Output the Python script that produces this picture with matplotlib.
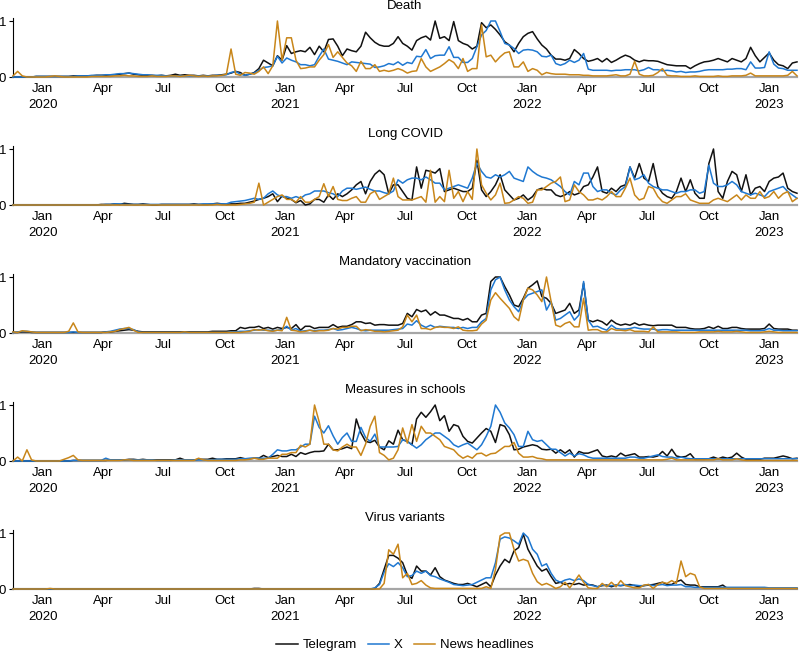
import matplotlib
matplotlib.use("Agg")
import matplotlib.pyplot as plt
import matplotlib.dates as mdates
import pandas as pd

plt.rcParams['font.family'] = ['Liberation Sans', 'DejaVu Sans']
plt.rcParams['font.size'] = 9.5

# weekly dates, Nov 2019 - Feb 2023
dates = pd.date_range('2019-11-17', periods=170, freq='7D')

# values are normalised to the max of each series (0..1)
# rows: Nov-Dec 2019, then one row per quarter
death_tg = [
    0, 0, 0, 0, 0, 0.01, 0.01,
    0.01, 0.01, 0.01, 0.01, 0.01, 0.01, 0.02, 0.02, 0.02, 0.02, 0.02, 0.03, 0.03,
    0.03, 0.04, 0.04, 0.05, 0.06, 0.07, 0.05, 0.04, 0.03, 0.03, 0.03, 0.02, 0.03,
    0.02, 0.03, 0.05, 0.03, 0.04, 0.03, 0.03, 0.02, 0.03, 0.02, 0.03, 0.03, 0.04,
    0.05, 0.07, 0.1, 0.08, 0.03, 0.05, 0.08, 0.15, 0.3, 0.25, 0.2, 0.38, 0.3,
    0.56, 0.42, 0.45, 0.47, 0.45, 0.53, 0.4, 0.55, 0.45, 0.67, 0.68, 0.55, 0.38,
    0.5, 0.47, 0.45, 0.55, 0.8, 0.7, 0.62, 0.57, 0.55, 0.55, 0.6, 0.72, 0.6,
    0.55, 0.48, 0.65, 0.7, 0.73, 0.66, 1.0, 0.69, 0.72, 0.65, 0.99, 0.65, 0.6,
    0.57, 0.5, 0.55, 0.97, 0.88, 0.93, 0.85, 0.75, 0.63, 0.57, 0.45, 0.6, 0.72,
    0.78, 0.81, 0.68, 0.57, 0.5, 0.39, 0.32, 0.32, 0.3, 0.33, 0.49, 0.42, 0.33,
    0.28, 0.3, 0.33, 0.27, 0.33, 0.26, 0.3, 0.35, 0.39, 0.36, 0.3, 0.27, 0.3,
    0.29, 0.29, 0.28, 0.25, 0.22, 0.21, 0.2, 0.2, 0.2, 0.15, 0.2, 0.24, 0.27,
    0.28, 0.3, 0.33, 0.3, 0.27, 0.33, 0.3, 0.27, 0.33, 0.53, 0.38, 0.27, 0.35,
    0.43, 0.3, 0.22, 0.2, 0.15, 0.25, 0.27]
death_x = [
    0, 0, 0, 0, 0, 0.01, 0.01,
    0.01, 0.01, 0.01, 0.01, 0.01, 0.01, 0.01, 0.02, 0.02, 0.02, 0.03, 0.03, 0.03,
    0.04, 0.04, 0.05, 0.06, 0.06, 0.07, 0.06, 0.05, 0.04, 0.04, 0.03, 0.03, 0.03,
    0.02, 0.02, 0.02, 0.02, 0.02, 0.02, 0.02, 0.02, 0.02, 0.02, 0.02, 0.03, 0.03,
    0.04, 0.08, 0.1, 0.05, 0.03, 0.05, 0.07, 0.12, 0.17, 0.18, 0.2, 0.37, 0.25,
    0.34, 0.3, 0.27, 0.22, 0.22, 0.2, 0.22, 0.37, 0.5, 0.32, 0.3, 0.28, 0.25,
    0.22, 0.27, 0.26, 0.25, 0.24, 0.23, 0.17, 0.18, 0.2, 0.24, 0.22, 0.27, 0.21,
    0.26, 0.24, 0.37, 0.36, 0.49, 0.33, 0.38, 0.39, 0.39, 0.54, 0.35, 0.35, 0.26,
    0.26, 0.33, 0.54, 0.75, 0.83, 1.0, 1.0, 0.81, 0.6, 0.57, 0.51, 0.42, 0.48,
    0.49, 0.48, 0.45, 0.37, 0.36, 0.39, 0.24, 0.21, 0.24, 0.3, 0.26, 0.3, 0.42,
    0.14, 0.12, 0.12, 0.12, 0.12, 0.11, 0.12, 0.12, 0.13, 0.13, 0.13, 0.11, 0.13,
    0.17, 0.13, 0.13, 0.11, 0.12, 0.11, 0.09, 0.1, 0.08, 0.09, 0.09, 0.1, 0.12,
    0.13, 0.13, 0.13, 0.13, 0.14, 0.14, 0.15, 0.15, 0.13, 0.27, 0.16, 0.16, 0.17,
    0.45, 0.23, 0.16, 0.15, 0.12, 0.12, 0.12]
death_news = [
    0.02, 0.1, 0.02, 0, 0, 0, 0,
    0, 0.01, 0.02, 0.01, 0, 0, 0, 0, 0, 0, 0.01, 0.01, 0.01,
    0.01, 0.01, 0.02, 0.02, 0.03, 0.02, 0.02, 0.01, 0.01, 0.01, 0.02, 0.01, 0.01,
    0.01, 0.02, 0.02, 0.01, 0.02, 0.03, 0.02, 0.01, 0.02, 0.01, 0.02, 0.02, 0.03,
    0.05, 0.5, 0.05, 0.03, 0.08, 0.07, 0.05, 0.1, 0.18, 0.06, 0.2, 1.0, 0.3,
    0.7, 0.7, 0.3, 0.15, 0.16, 0.18, 0.18, 0.3, 0.4, 0.58, 0.35, 0.45, 0.35,
    0.25, 0.2, 0.1, 0.28, 0.15, 0.15, 0.22, 0.1, 0.12, 0.1, 0.12, 0.15, 0.12,
    0.07, 0.1, 0.11, 0.33, 0.18, 0.1, 0.14, 0.18, 0.24, 0.31, 0.26, 0.15, 0.33,
    0.1, 0.15, 0.15, 0.93, 0.36, 0.39, 0.27, 0.36, 0.43, 0.45, 0.18, 0.18, 0.27,
    0.1, 0.15, 0.12, 0.04, 0.08, 0.06, 0.05, 0.05, 0.05, 0.04, 0.04, 0.04, 0.03,
    0.03, 0.02, 0.02, 0.02, 0.02, 0.03, 0.04, 0.02, 0.02, 0.05, 0.28, 0.05, 0.02,
    0.02, 0.03, 0.08, 0.15, 0.03, 0.02, 0.02, 0.01, 0.01, 0.01, 0.02, 0.01, 0.01,
    0.01, 0.01, 0.02, 0.01, 0.01, 0.02, 0.02, 0.02, 0.03, 0.07, 0.02, 0.02, 0.02,
    0.02, 0.02, 0.02, 0.02, 0.03, 0.1, 0.02]

longcovid_tg = [
    0, 0, 0, 0, 0, 0, 0,
    0, 0, 0, 0, 0, 0, 0, 0, 0, 0, 0, 0, 0.01,
    0.01, 0.01, 0.02, 0.01, 0.03, 0.02, 0.01, 0.01, 0.02, 0.01, 0, 0, 0.01,
    0.01, 0.01, 0.01, 0.01, 0.01, 0.01, 0.02, 0.01, 0.01, 0.01, 0.02, 0.03, 0.02,
    0.01, 0.02, 0.02, 0.03, 0.03, 0.05, 0.07, 0.1, 0.12, 0.15, 0.2, 0.06, 0.16,
    0.12, 0.1, 0.04, 0.08, 0.0, 0.02, 0.1, 0.1, 0.05, 0.18, 0.1, 0.2, 0.15,
    0.2, 0.27, 0.36, 0.42, 0.2, 0.42, 0.55, 0.62, 0.54, 0.2, 0.36, 0.36, 0.24,
    0.12, 0.09, 0.68, 0.3, 0.62, 0.6, 0.57, 0.65, 0.24, 0.27, 0.3, 0.27, 0.24,
    0.24, 0.3, 0.8, 0.27, 0.15, 0.24, 0.36, 0.54, 0.27, 0.18, 0.09, 0.12, 0.18,
    0.09, 0.15, 0.27, 0.3, 0.27, 0.27, 0.18, 0.15, 0.18, 0.24, 0.18, 0.21, 0.33,
    0.36, 0.5, 0.68, 0.24, 0.21, 0.3, 0.24, 0.33, 0.36, 0.68, 0.48, 0.74, 0.48,
    0.42, 0.74, 0.33, 0.21, 0.15, 0.12, 0.24, 0.48, 0.24, 0.45, 0.21, 0.12, 0.12,
    0.74, 1.0, 0.24, 0.12, 0.42, 0.6, 0.54, 0.24, 0.54, 0.18, 0.3, 0.33, 0.24,
    0.42, 0.48, 0.5, 0.57, 0.3, 0.24, 0.21]
longcovid_x = [
    0, 0, 0, 0, 0, 0, 0,
    0, 0, 0, 0, 0, 0, 0, 0, 0, 0, 0, 0, 0,
    0.01, 0.01, 0.02, 0.02, 0.01, 0.01, 0.01, 0.01, 0.01, 0.01, 0.01, 0.01, 0.01,
    0.01, 0.01, 0.01, 0.01, 0.01, 0.01, 0.01, 0.01, 0.02, 0.02, 0.02, 0.02, 0.02,
    0.02, 0.05, 0.06, 0.07, 0.08, 0.1, 0.12, 0.1, 0.12, 0.2, 0.25, 0.18, 0.15,
    0.15, 0.12, 0.15, 0.12, 0.18, 0.2, 0.25, 0.25, 0.25, 0.22, 0.2, 0.15, 0.25,
    0.3, 0.3, 0.28, 0.3, 0.32, 0.28, 0.25, 0.25, 0.22, 0.2, 0.25, 0.45, 0.39,
    0.45, 0.48, 0.48, 0.45, 0.5, 0.45, 0.39, 0.39, 0.27, 0.3, 0.33, 0.36, 0.33,
    0.3, 0.48, 0.75, 0.6, 0.5, 0.48, 0.54, 0.5, 0.54, 0.6, 0.48, 0.45, 0.42,
    0.68, 0.6, 0.54, 0.5, 0.48, 0.45, 0.39, 0.33, 0.24, 0.18, 0.42, 0.36, 0.57,
    0.57, 0.33, 0.24, 0.27, 0.27, 0.21, 0.18, 0.27, 0.33, 0.68, 0.45, 0.48, 0.54,
    0.39, 0.33, 0.3, 0.27, 0.27, 0.24, 0.21, 0.24, 0.24, 0.27, 0.27, 0.21, 0.24,
    0.71, 0.39, 0.33, 0.33, 0.36, 0.42, 0.36, 0.24, 0.21, 0.18, 0.21, 0.18, 0.15,
    0.24, 0.27, 0.3, 0.33, 0.24, 0.18, 0.12]
longcovid_news = [
    0, 0, 0, 0, 0, 0, 0,
    0, 0, 0, 0, 0, 0, 0, 0, 0, 0, 0, 0, 0,
    0, 0, 0, 0, 0, 0, 0, 0, 0, 0, 0, 0, 0,
    0, 0, 0, 0, 0, 0, 0, 0, 0, 0, 0, 0.01, 0,
    0, 0, 0, 0.01, 0.02, 0.03, 0.05, 0.39, 0.0, 0.05, 0.1, 0.15, 0.18,
    0.1, 0.1, 0.05, 0.15, 0.05, 0.05, 0.1, 0.15, 0.38, 0.15, 0.33, 0.1, 0.08,
    0.08, 0.12, 0.15, 0.05, 0.05, 0.2, 0.25, 0.1, 0.15, 0.2, 0.48, 0.15, 0.09,
    0.09, 0.09, 0.12, 0.15, 0.05, 0.62, 0.05, 0.15, 0.06, 0.62, 0.12, 0.24, 0.06,
    0.24, 0.1, 1.0, 0.36, 0.21, 0.09, 0.18, 0.39, 0.03, 0.04, 0.09, 0.15, 0.12,
    0.03, 0.05, 0.27, 0.27, 0.33, 0.39, 0.42, 0.5, 0.06, 0.09, 0.36, 0.24, 0.18,
    0.09, 0.09, 0.12, 0.09, 0.15, 0.24, 0.15, 0.15, 0.3, 0.48, 0.18, 0.09, 0.12,
    0.33, 0.3, 0.15, 0.06, 0.03, 0.09, 0.15, 0.15, 0.2, 0.09, 0.06, 0.03, 0.03,
    0.03, 0.09, 0.12, 0.09, 0.06, 0.12, 0.18, 0.09, 0.18, 0.12, 0.12, 0.24, 0.12,
    0.15, 0.24, 0.12, 0.2, 0.24, 0.06, 0.12]

mandvac_tg = [
    0.01, 0.01, 0.02, 0.02, 0.01, 0.01, 0.01,
    0.01, 0.01, 0.01, 0.01, 0.01, 0.01, 0.01, 0.01, 0.01, 0.01, 0.01, 0.01, 0.01,
    0.02, 0.02, 0.03, 0.04, 0.05, 0.06, 0.05, 0.03, 0.02, 0.02, 0.02, 0.02, 0.02,
    0.02, 0.02, 0.02, 0.02, 0.02, 0.02, 0.02, 0.02, 0.02, 0.02, 0.03, 0.03, 0.03,
    0.03, 0.04, 0.04, 0.1, 0.08, 0.1, 0.1, 0.12, 0.08, 0.1, 0.07, 0.1, 0.08,
    0.1, 0.08, 0.15, 0.05, 0.12, 0.12, 0.08, 0.1, 0.1, 0.1, 0.15, 0.1, 0.12,
    0.12, 0.15, 0.2, 0.2, 0.17, 0.18, 0.14, 0.15, 0.15, 0.14, 0.14, 0.14, 0.17,
    0.35, 0.29, 0.42, 0.38, 0.41, 0.32, 0.38, 0.32, 0.32, 0.29, 0.26, 0.26, 0.23,
    0.26, 0.2, 0.2, 0.32, 0.35, 0.92, 1.0, 1.0, 0.83, 0.68, 0.5, 0.47, 0.62,
    0.8, 0.86, 0.93, 0.65, 0.62, 0.53, 0.35, 0.38, 0.41, 0.53, 0.35, 0.41, 0.89,
    0.23, 0.2, 0.23, 0.2, 0.14, 0.23, 0.17, 0.14, 0.16, 0.14, 0.18, 0.14, 0.16,
    0.14, 0.13, 0.14, 0.14, 0.14, 0.14, 0.1, 0.1, 0.1, 0.08, 0.07, 0.07, 0.08,
    0.11, 0.08, 0.12, 0.08, 0.08, 0.1, 0.1, 0.08, 0.07, 0.07, 0.07, 0.07, 0.08,
    0.16, 0.08, 0.07, 0.07, 0.07, 0.05, 0.05]
mandvac_x = [
    0.01, 0.02, 0.03, 0.03, 0.02, 0.01, 0.01,
    0.01, 0.01, 0.01, 0.01, 0.01, 0.01, 0.02, 0.01, 0.01, 0.01, 0.01, 0.01, 0.01,
    0.02, 0.03, 0.05, 0.07, 0.08, 0.08, 0.06, 0.02, 0.01, 0.01, 0.01, 0.01, 0.01,
    0.01, 0.01, 0.01, 0.01, 0.01, 0.01, 0.01, 0.01, 0.01, 0.01, 0.01, 0.01, 0.01,
    0.01, 0.02, 0.02, 0.03, 0.03, 0.04, 0.05, 0.06, 0.05, 0.05, 0.04, 0.05, 0.06,
    0.12, 0.05, 0.08, 0.03, 0.04, 0.05, 0.04, 0.05, 0.05, 0.06, 0.08, 0.05, 0.06,
    0.08, 0.1, 0.08, 0.05, 0.04, 0.05, 0.05, 0.05, 0.05, 0.05, 0.06, 0.07, 0.08,
    0.16, 0.14, 0.22, 0.14, 0.1, 0.14, 0.1, 0.12, 0.11, 0.1, 0.1, 0.08, 0.1,
    0.08, 0.1, 0.1, 0.2, 0.26, 0.77, 0.95, 1.0, 0.77, 0.59, 0.47, 0.38, 0.59,
    0.68, 0.71, 0.74, 0.77, 0.41, 0.56, 0.23, 0.26, 0.32, 0.38, 0.23, 0.32, 0.92,
    0.23, 0.11, 0.12, 0.08, 0.05, 0.14, 0.08, 0.07, 0.07, 0.08, 0.1, 0.08, 0.07,
    0.07, 0.07, 0.05, 0.06, 0.06, 0.05, 0.05, 0.05, 0.05, 0.05, 0.05, 0.05, 0.05,
    0.05, 0.05, 0.05, 0.05, 0.05, 0.05, 0.05, 0.05, 0.05, 0.04, 0.04, 0.04, 0.05,
    0.08, 0.05, 0.05, 0.04, 0.04, 0.04, 0.04]
mandvac_news = [
    0.02, 0.01, 0.04, 0.03, 0.02, 0.01, 0.01,
    0.01, 0.01, 0.01, 0.01, 0.01, 0.03, 0.18, 0.02, 0.01, 0.01, 0.01, 0.01, 0.01,
    0.01, 0.02, 0.03, 0.06, 0.08, 0.1, 0.05, 0.01, 0.01, 0.01, 0.01, 0.01, 0.01,
    0.01, 0.01, 0.01, 0.01, 0.02, 0.01, 0.01, 0.01, 0.01, 0.01, 0.01, 0.01, 0.01,
    0.01, 0.01, 0.01, 0.01, 0.02, 0.03, 0.06, 0.05, 0.06, 0.04, 0.03, 0.05, 0.04,
    0.28, 0.05, 0.04, 0.02, 0.03, 0.05, 0.03, 0.04, 0.04, 0.05, 0.08, 0.07, 0.1,
    0.1, 0.12, 0.12, 0.04, 0.06, 0.05, 0.03, 0.03, 0.02, 0.03, 0.04, 0.05, 0.11,
    0.32, 0.2, 0.32, 0.08, 0.08, 0.06, 0.1, 0.11, 0.1, 0.1, 0.08, 0.11, 0.05,
    0.04, 0.04, 0.05, 0.16, 0.23, 0.59, 0.72, 0.62, 0.53, 0.44, 0.29, 0.22, 0.59,
    0.8, 0.77, 0.68, 0.56, 1.0, 0.56, 0.14, 0.11, 0.17, 0.2, 0.11, 0.11, 0.62,
    0.05, 0.06, 0.06, 0.02, 0.02, 0.08, 0.05, 0.05, 0.04, 0.06, 0.03, 0.03, 0.03,
    0.02, 0.11, 0.02, 0.02, 0.02, 0.02, 0.02, 0.01, 0.01, 0.01, 0.01, 0.02, 0.02,
    0.02, 0.02, 0.03, 0.02, 0.02, 0.02, 0.03, 0.02, 0.01, 0.01, 0.01, 0.01, 0.02,
    0.03, 0.02, 0.01, 0.01, 0.01, 0.01, 0.01]

schools_tg = [
    0, 0, 0, 0, 0, 0, 0,
    0, 0, 0, 0, 0, 0, 0.01, 0.01, 0.01, 0.01, 0.01, 0.01, 0.01,
    0.01, 0.02, 0.02, 0.02, 0.02, 0.03, 0.03, 0.02, 0.03, 0.02, 0.02, 0.02, 0.02,
    0.02, 0.02, 0.02, 0.05, 0.02, 0.02, 0.02, 0.03, 0.03, 0.03, 0.05, 0.03, 0.03,
    0.04, 0.04, 0.04, 0.06, 0.04, 0.04, 0.05, 0.05, 0.1, 0.06, 0.08, 0.1, 0.08,
    0.08, 0.12, 0.08, 0.15, 0.12, 0.15, 0.17, 0.17, 0.18, 0.3, 0.2, 0.2, 0.22,
    0.25, 0.22, 0.75, 0.5, 0.35, 0.33, 0.37, 0.25, 0.2, 0.36, 0.3, 0.55, 0.38,
    0.35, 0.29, 0.75, 0.87, 0.78, 0.88, 1.0, 0.72, 0.81, 0.53, 0.65, 0.62, 0.44,
    0.35, 0.32, 0.41, 0.5, 0.58, 0.53, 0.33, 0.65, 0.62, 0.47, 0.2, 0.21, 0.25,
    0.27, 0.29, 0.27, 0.21, 0.2, 0.21, 0.14, 0.2, 0.14, 0.2, 0.07, 0.17, 0.14,
    0.14, 0.17, 0.2, 0.09, 0.07, 0.09, 0.07, 0.14, 0.09, 0.11, 0.13, 0.07, 0.07,
    0.08, 0.07, 0.09, 0.17, 0.09, 0.21, 0.09, 0.07, 0.08, 0.13, 0.03, 0.03, 0.03,
    0.04, 0.07, 0.04, 0.07, 0.05, 0.07, 0.14, 0.07, 0.03, 0.03, 0.03, 0.03, 0.05,
    0.05, 0.05, 0.07, 0.09, 0.07, 0.04, 0.05]
schools_x = [
    0, 0, 0, 0, 0, 0, 0,
    0, 0, 0, 0, 0, 0, 0.01, 0.01, 0.01, 0.01, 0.01, 0.01, 0.01,
    0.05, 0.02, 0.02, 0.02, 0.02, 0.02, 0.02, 0.02, 0.02, 0.02, 0.02, 0.01, 0.01,
    0.01, 0.01, 0.02, 0.02, 0.02, 0.02, 0.02, 0.02, 0.02, 0.02, 0.02, 0.03, 0.03,
    0.03, 0.03, 0.03, 0.04, 0.04, 0.05, 0.05, 0.05, 0.05, 0.05, 0.12, 0.2, 0.18,
    0.18, 0.2, 0.2, 0.25, 0.3, 0.3, 0.8, 0.6, 0.5, 0.63, 0.45, 0.3, 0.42,
    0.5, 0.35, 0.35, 0.6, 0.42, 0.35, 0.48, 0.25, 0.25, 0.25, 0.25, 0.26, 0.38,
    0.35, 0.29, 0.23, 0.29, 0.38, 0.44, 0.5, 0.5, 0.44, 0.38, 0.29, 0.25, 0.29,
    0.32, 0.26, 0.2, 0.29, 0.44, 0.62, 1.0, 0.87, 0.68, 0.59, 0.47, 0.26, 0.26,
    0.53, 0.38, 0.35, 0.37, 0.29, 0.21, 0.21, 0.15, 0.09, 0.14, 0.09, 0.13, 0.11,
    0.07, 0.05, 0.05, 0.05, 0.05, 0.05, 0.05, 0.05, 0.05, 0.07, 0.07, 0.05, 0.05,
    0.07, 0.09, 0.11, 0.08, 0.07, 0.07, 0.05, 0.07, 0.05, 0.04, 0.04, 0.04, 0.04,
    0.04, 0.04, 0.04, 0.04, 0.04, 0.04, 0.04, 0.04, 0.04, 0.04, 0.04, 0.04, 0.04,
    0.04, 0.04, 0.04, 0.04, 0.04, 0.04, 0.04]
schools_news = [
    0, 0.07, 0, 0.2, 0.02, 0, 0,
    0, 0, 0, 0, 0.03, 0.06, 0.1, 0.02, 0.01, 0.01, 0.01, 0.01, 0.01,
    0.01, 0.01, 0.01, 0.01, 0.02, 0.02, 0.01, 0.01, 0.01, 0.01, 0.01, 0.01, 0.01,
    0.01, 0.01, 0.01, 0.01, 0.01, 0.01, 0.01, 0.05, 0.02, 0.01, 0.01, 0.01, 0.01,
    0.01, 0.01, 0.01, 0.02, 0.02, 0.03, 0.05, 0.03, 0.03, 0.05, 0.05, 0.05, 0.12,
    0.12, 0.15, 0.15, 0.28, 0.25, 0.3, 1.0, 0.7, 0.3, 0.3, 0.2, 0.18, 0.25,
    0.3, 0.25, 0.25, 0.1, 0.3, 0.62, 0.8, 0.15, 0.1, 0.02, 0.05, 0.2, 0.59,
    0.32, 0.65, 0.35, 0.62, 0.5, 0.5, 0.44, 0.38, 0.26, 0.23, 0.2, 0.11, 0.05,
    0.09, 0.05, 0.13, 0.14, 0.09, 0.13, 0.14, 0.2, 0.26, 0.26, 0.33, 0.14, 0.07,
    0.07, 0.08, 0.05, 0.04, 0.02, 0.02, 0.02, 0.02, 0.02, 0.02, 0.02, 0.02, 0.02,
    0.02, 0.02, 0.02, 0.02, 0.02, 0.02, 0.02, 0.02, 0.02, 0.02, 0.02, 0.02, 0.02,
    0.02, 0.02, 0.02, 0.02, 0.03, 0.05, 0.02, 0.02, 0.02, 0.02, 0.02, 0.02, 0.02,
    0.02, 0.02, 0.04, 0.02, 0.02, 0.02, 0.04, 0.02, 0.01, 0.01, 0.01, 0.01, 0.01,
    0.01, 0.01, 0.01, 0.01, 0.01, 0.01, 0.01]

variants_tg = [
    0, 0, 0, 0, 0, 0, 0,
    0, 0, 0, 0, 0, 0, 0, 0, 0, 0, 0, 0, 0,
    0, 0, 0, 0, 0, 0, 0, 0, 0, 0, 0, 0, 0,
    0, 0, 0, 0, 0, 0, 0, 0, 0, 0, 0, 0, 0,
    0, 0, 0, 0, 0, 0, 0.01, 0.01, 0, 0, 0, 0, 0,
    0, 0, 0, 0, 0, 0, 0, 0, 0, 0, 0, 0, 0,
    0, 0, 0, 0, 0, 0, 0.01, 0.1, 0.35, 0.6, 0.6, 0.55, 0.47,
    0.25, 0.19, 0.41, 0.32, 0.32, 0.25, 0.38, 0.22, 0.16, 0.13, 0.1, 0.08, 0.08,
    0.1, 0.07, 0.04, 0.08, 0.12, 0.04, 0.25, 0.41, 0.53, 0.47, 0.68, 0.74, 0.98,
    0.71, 0.56, 0.41, 0.32, 0.36, 0.22, 0.1, 0.12, 0.08, 0.1, 0.08, 0.1, 0.07,
    0.08, 0.07, 0.04, 0.06, 0.07, 0.04, 0.07, 0.06, 0.07, 0.08, 0.06, 0.04, 0.06,
    0.07, 0.08, 0.1, 0.12, 0.08, 0.08, 0.13, 0.16, 0.08, 0.07, 0.07, 0.04, 0.04,
    0.04, 0.04, 0.04, 0.07, 0.01, 0.01, 0.01, 0.01, 0.01, 0.01, 0.01, 0.01, 0.01,
    0.01, 0.01, 0.01, 0.01, 0.01, 0.01, 0.01]
variants_x = [
    0, 0, 0, 0, 0, 0, 0,
    0, 0, 0, 0, 0, 0, 0, 0, 0, 0, 0, 0, 0,
    0, 0, 0, 0, 0, 0, 0, 0, 0, 0, 0, 0, 0,
    0, 0, 0, 0, 0, 0, 0, 0, 0, 0, 0, 0, 0,
    0, 0, 0, 0, 0, 0, 0, 0, 0, 0, 0, 0, 0,
    0, 0, 0, 0, 0, 0, 0, 0, 0, 0, 0, 0, 0,
    0, 0, 0, 0, 0, 0, 0.02, 0.08, 0.3, 0.45, 0.4, 0.47, 0.38,
    0.22, 0.24, 0.32, 0.28, 0.32, 0.24, 0.22, 0.18, 0.15, 0.12, 0.08, 0.07, 0.06,
    0.07, 0.08, 0.12, 0.16, 0.2, 0.2, 0.47, 0.89, 0.93, 0.91, 0.86, 0.8, 1.0,
    0.92, 0.71, 0.62, 0.41, 0.45, 0.28, 0.16, 0.12, 0.16, 0.18, 0.15, 0.18, 0.15,
    0.08, 0.06, 0.04, 0.07, 0.06, 0.06, 0.07, 0.06, 0.08, 0.06, 0.07, 0.06, 0.06,
    0.08, 0.06, 0.07, 0.08, 0.06, 0.07, 0.07, 0.08, 0.04, 0.04, 0.03, 0.03, 0.03,
    0.03, 0.03, 0.03, 0.03, 0.03, 0.03, 0.03, 0.03, 0.03, 0.03, 0.03, 0.03, 0.03,
    0.02, 0.02, 0.02, 0.02, 0.02, 0.02, 0.02]
variants_news = [
    0, 0, 0, 0, 0, 0, 0,
    0, 0.01, 0, 0, 0, 0, 0, 0, 0, 0, 0, 0, 0,
    0, 0, 0, 0, 0, 0, 0, 0, 0, 0, 0, 0, 0,
    0, 0, 0, 0, 0, 0, 0, 0, 0, 0, 0, 0, 0,
    0, 0, 0, 0, 0, 0, 0, 0, 0, 0, 0, 0, 0,
    0, 0, 0, 0, 0, 0, 0, 0, 0, 0, 0, 0, 0,
    0, 0, 0, 0, 0, 0, 0, 0, 0.1, 0.7, 0.62, 0.8, 0.2,
    0.28, 0.08, 0.1, 0.15, 0.07, 0.02, 0.01, 0.01, 0.01, 0.01, 0.01, 0.01, 0.01,
    0.01, 0.01, 0.01, 0.01, 0.04, 0.01, 0.35, 0.95, 1.0, 1.0, 0.71, 0.5, 0.53,
    0.5, 0.28, 0.13, 0.07, 0.1, 0.06, 0.01, 0.04, 0.12, 0.02, 0.13, 0.25, 0.12,
    0.02, 0.01, 0.01, 0.1, 0.04, 0.12, 0.04, 0.15, 0.06, 0.04, 0.02, 0.02, 0.07,
    0.08, 0.01, 0.08, 0.12, 0.1, 0.15, 0.1, 0.5, 0.22, 0.28, 0.25, 0.04, 0.01,
    0.01, 0.01, 0.01, 0.01, 0.01, 0.01, 0.01, 0.01, 0.01, 0.01, 0.01, 0.01, 0.01,
    0.01, 0.01, 0.01, 0.01, 0.01, 0.01, 0.01]

topics = ['Death', 'Long COVID', 'Mandatory vaccination', 'Measures in schools', 'Virus variants']
telegram = [death_tg, longcovid_tg, mandvac_tg, schools_tg, variants_tg]
x_posts = [death_x, longcovid_x, mandvac_x, schools_x, variants_x]
news = [death_news, longcovid_news, mandvac_news, schools_news, variants_news]

colors = {'Telegram': '#111111', 'X': '#1f78d1', 'News headlines': '#c8861a'}

W, H = 799, 653
fig = plt.figure(figsize=(W / 100, H / 100), dpi=100)

zero_px = [77, 205, 333, 461, 589]
unit_px = 56
ytop = 1.05

axes = []
for i, topic in enumerate(topics):
    y0 = zero_px[i]
    h = unit_px * ytop
    ax = fig.add_axes([13 / W, 1 - y0 / H, (797 - 13) / W, h / H])
    axes.append(ax)
    for name, series in [('Telegram', telegram[i]), ('X', x_posts[i]),
                         ('News headlines', news[i])]:
        ax.plot(dates, series, color=colors[name], lw=1.1, label=name,
                zorder=3, clip_on=False)
    ax.set_xlim(dates[0], dates[-1])
    ax.set_ylim(0, ytop)
    ax.set_yticks([0, 1])
    ax.set_yticklabels(['0', '1'])
    ax.tick_params(axis='y', length=3, width=0.8, pad=2)

    ax.xaxis.set_major_locator(mdates.MonthLocator(bymonth=[1]))
    ax.xaxis.set_major_formatter(mdates.DateFormatter('%b\n%Y'))
    ax.xaxis.set_minor_locator(mdates.MonthLocator(bymonth=[4, 7, 10]))
    ax.xaxis.set_minor_formatter(mdates.DateFormatter('%b'))
    ax.tick_params(axis='x', which='both', length=0, pad=4, labelsize=9.5)

    for s in ['top', 'right']:
        ax.spines[s].set_visible(False)
    ax.spines['left'].set_linewidth(0.8)
    ax.spines['bottom'].set_color('#a6a6a6')
    ax.spines['bottom'].set_linewidth(1.6)
    ax.patch.set_alpha(0)

    fig.text(405 / W, 1 - (y0 - 71) / H, topic, ha='center', va='center',
             fontsize=9.5)

handles, labels = axes[-1].get_legend_handles_labels()
fig.legend(handles, labels, loc='center', bbox_to_anchor=(405 / W, 1 - 645 / H),
           ncol=3, frameon=False, handlelength=1.6, handletextpad=0.4,
           columnspacing=0.8, fontsize=9.5)

# wider gap between month and year lines
fig.canvas.draw()
for ax in axes:
    for lbl in ax.xaxis.get_majorticklabels():
        lbl.set_linespacing(1.5)

fig.savefig('out.png', dpi=100)
